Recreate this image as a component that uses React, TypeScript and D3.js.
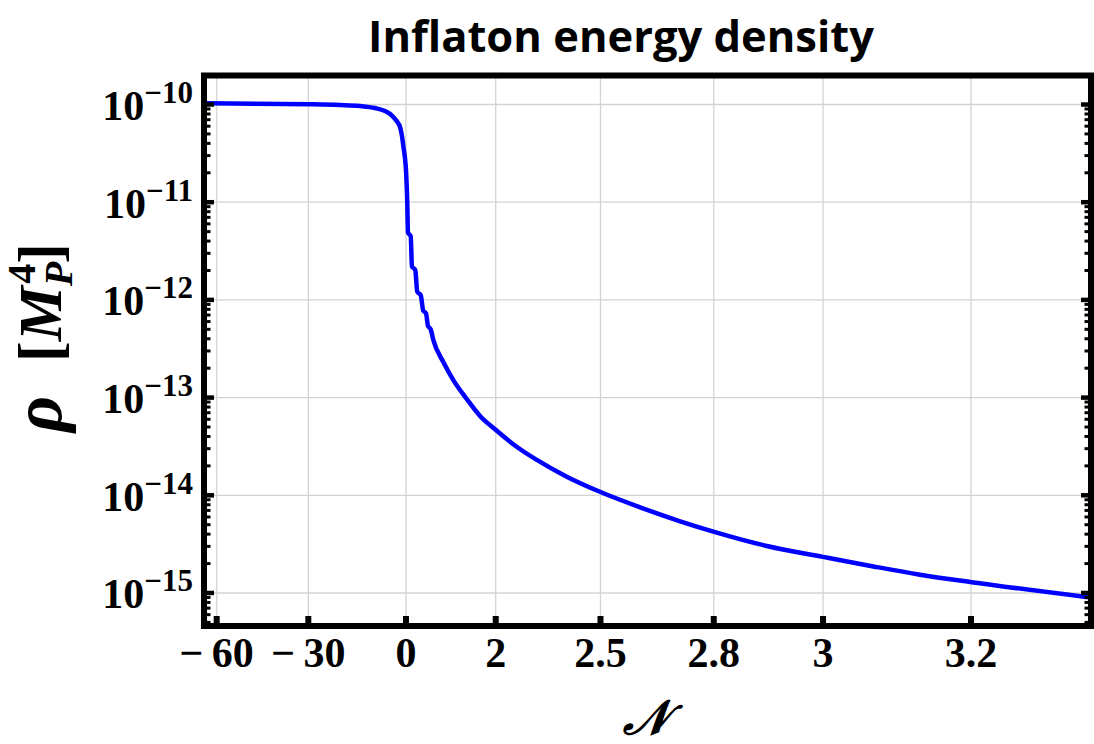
import React from "react";
import * as d3 from "d3";

// ---- data ----
const nValues: number[] = [
  -63.5, -29.48, -20.3, -14.12, -9.52, -6.45, -4.3, -2.76, -1.84, -1.23, -0.77, -0.31, 0,
  0.029, 0.045, 0.105, 0.134, 0.207, 0.252, 0.328, 0.386, 0.446, 0.491, 0.551, 0.609,
  0.832, 1.055, 1.353, 1.65, 1.997, 2.1, 2.196, 2.339, 2.5, 2.605, 2.711, 2.799,
  2.897, 3.0, 3.068, 3.131, 3.201, 3.346,
];
const rhoValues: number[] = [
  1.028e-10, 1.005e-10, 9.88e-11, 9.66e-11, 9.21e-11, 8.57e-11, 7.71e-11, 6.7e-11, 5.89e-11, 4.76e-11, 3.67e-11, 2.83e-11, 2.14e-11,
  9.75e-12, 4.88e-12, 4.51e-12, 2.19e-12, 2.02e-12, 1.21e-12, 1.12e-12, 7.74e-13, 7.29e-13, 5.41e-13, 5.0e-13, 3.89e-13,
  2.31e-13, 1.51e-13, 9.68e-14, 6.49e-14, 4.69e-14, 3.14e-14, 2.3e-14, 1.55e-14, 1.08e-14, 7.53e-15, 5.42e-15, 4.25e-15,
  3.03e-15, 2.34e-15, 1.87e-15, 1.54e-15, 1.29e-15, 9.06e-16,
];
const xTickValues: number[] = [-60, -30, 0, 2, 2.5, 2.8, 3, 3.2];
const xTickLabels: string[] = ["\u2212\u200960", "\u2212\u200930", "0", "2", "2.5", "2.8", "3", "3.2"];
const yTickExponents: number[] = [-10, -11, -12, -13, -14, -15];
const title = "Inflaton energy density";

// x axis uses a custom (non-uniform) scaling: breakpoints in data units
const xBreaks: number[] = [-64.5, -60, -30, 0, 2, 2.5, 2.8, 3, 3.2, 3.35];
// fractional position of each breakpoint across the plot width
const xBreakFrac: number[] = [0, 0.0143, 0.1176, 0.2277, 0.3289, 0.4470, 0.5747, 0.6979, 0.8647, 1];
const yDomain: [number, number] = [Math.pow(10, -15.338), Math.pow(10, -9.703)];

const W = 1094;
const H = 744;
const L = 204, R = 1091, T = 75.5, B = 626;

export default function App() {
  const x = d3.scaleLinear().domain(xBreaks).range(xBreakFrac.map((f) => L + f * (R - L)));
  const y = d3.scaleLog().domain(yDomain).range([B, T]);

  const pts: [number, number][] = nValues.map((n, i) => [n, rhoValues[i]]);
  const line = d3
    .line<[number, number]>()
    .x((d) => x(d[0]))
    .y((d) => y(d[1]))
    .curve(d3.curveMonotoneX);

  const minor: number[] = [];
  for (let e = -16; e <= -9; e++) {
    for (let k = 2; k <= 9; k++) {
      const v = k * Math.pow(10, e);
      if (v > yDomain[0] && v < yDomain[1]) minor.push(v);
    }
  }

  const serif = "'Liberation Serif', 'Times New Roman', serif";

  return (
    <svg width={W} height={H} style={{ position: "absolute", left: 0, top: 0, background: "#fff" }}>
      <rect x={0} y={0} width={W} height={H} fill="#fff" />
      <defs>
        <clipPath id="plotclip">
          <rect x={L} y={T} width={R - L} height={B - T} />
        </clipPath>
      </defs>
      {/* grid */}
      <g stroke="#d4d4d4" strokeWidth={1.3}>
        {xTickValues.map((v, i) => (
          <line key={"gx" + i} x1={x(v)} x2={x(v)} y1={T} y2={B} />
        ))}
        {yTickExponents.map((e, i) => (
          <line key={"gy" + i} x1={L} x2={R} y1={y(Math.pow(10, e))} y2={y(Math.pow(10, e))} />
        ))}
      </g>
      {/* curve */}
      <path d={line(pts) || ""} fill="none" stroke="#0000ff" strokeWidth={4.5} clipPath="url(#plotclip)" strokeLinejoin="round" />
      {/* ticks */}
      <g stroke="#000">
        {yTickExponents.map((e, i) => {
          const yy = y(Math.pow(10, e));
          return (
            <g key={"yt" + i} strokeWidth={4.5}>
              <line x1={L} x2={L + 10} y1={yy} y2={yy} />
              <line x1={R} x2={R - 10} y1={yy} y2={yy} />
            </g>
          );
        })}
        {minor.map((v, i) => {
          const yy = y(v);
          return (
            <g key={"ym" + i} strokeWidth={3}>
              <line x1={L} x2={L + 6.5} y1={yy} y2={yy} />
              <line x1={R} x2={R - 6.5} y1={yy} y2={yy} />
            </g>
          );
        })}
        {xTickValues.map((v, i) => (
          <line key={"xt" + i} x1={x(v)} x2={x(v)} y1={B} y2={B - 10} strokeWidth={6} />
        ))}
      </g>
      {/* frame */}
      <rect x={L} y={T} width={R - L} height={B - T} fill="none" stroke="#000" strokeWidth={6} />
      {/* y tick labels */}
      <g fontFamily={serif} fontWeight="bold" fill="#000">
        {yTickExponents.map((e, i) => {
          const yy = y(Math.pow(10, e));
          return (
            <text key={"yl" + i} x={193} y={yy + 15.5} textAnchor="end" fontSize={42}>
              <tspan>10</tspan>
              <tspan fontSize={31} dy={-17}>{"\u2212" + Math.abs(e)}</tspan>
            </text>
          );
        })}
      </g>
      {/* x tick labels */}
      <g fontFamily={serif} fontWeight="bold" fill="#000" fontSize={42}>
        {xTickValues.map((v, i) => (
          <text key={"xl" + i} x={x(v)} y={667} textAnchor="middle">
            {xTickLabels[i]}
          </text>
        ))}
      </g>
      {/* axis labels */}
      <text x={646} y={734} textAnchor="middle" fontFamily={serif} fontWeight="bold" fontStyle="italic" fontSize={48}>
        {"\uD835\uDCA9"}
      </text>
      <g transform="translate(61,432) rotate(-90)">
        <text x={0} y={0} textAnchor="start" fontFamily={serif} fontWeight="bold" fontSize={62}>
          <tspan fontStyle="italic" fontSize={70}>ρ</tspan>
          <tspan x={70}>[</tspan>
          <tspan fontStyle="italic">M</tspan>
          <tspan fontStyle="italic" fontSize={40} dy={11}>P</tspan>
          <tspan fontSize={40} dx={-22} dy={-37}>4</tspan>
          <tspan dy={26}>]</tspan>
        </text>
      </g>
      {/* title */}
      <text x={621} y={52} textAnchor="middle" fontFamily="'Open Sans', Lato, sans-serif" fontWeight="bold" fontSize={43.5}>
        {title}
      </text>
    </svg>
  );
}
